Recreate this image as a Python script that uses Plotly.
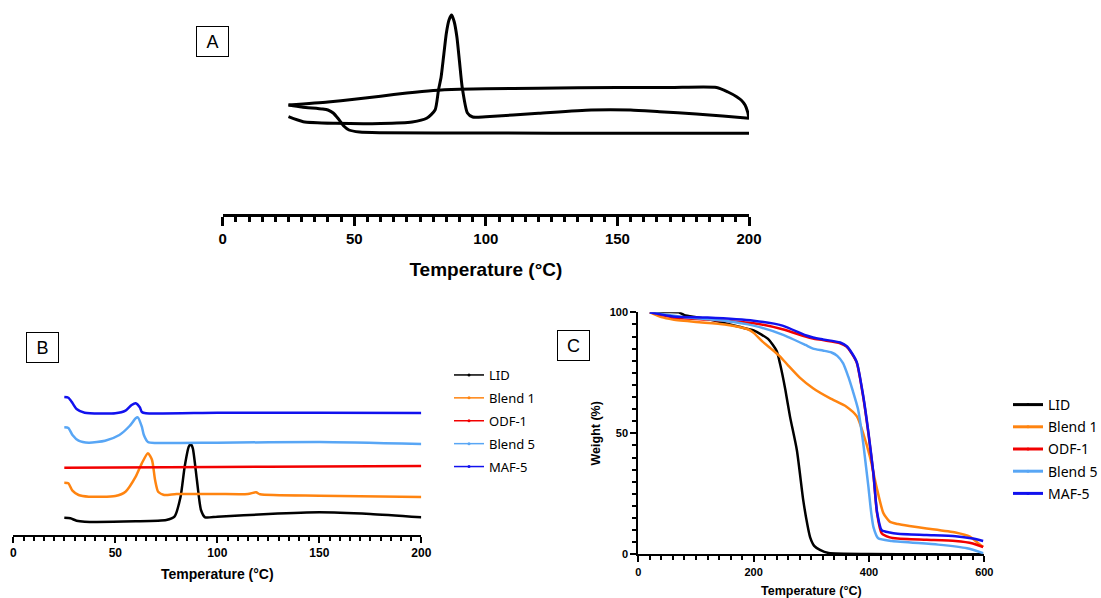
import plotly.graph_objects as go

W, H = 1101, 598

# ---------------- Panel A: DSC heat-cool-heat of LID (arbitrary heat-flow units)
a_heat1_T = [25, 30.6, 43, 60, 72, 77.5, 80.7, 82, 83, 84, 85, 86, 87, 88, 89, 90, 91, 93, 95, 100, 120, 140, 155, 166, 180, 190, 200]
a_heat1_hf = [9.73, 9.23, 9.07, 9.05, 9.2, 9.57, 10.4, 12.4, 13.7, 15.9, 18.1, 19.4, 19.9, 19.2, 17.7, 15.2, 12.7, 10.1, 9.7, 9.73, 10.07, 10.4, 10.4, 10.23, 10.0, 9.8, 9.57]
a_cool_T = [200, 199.5, 198.5, 197, 195.3, 192, 187.7, 170, 150, 120, 100, 90, 80, 70, 60, 50, 40, 25]
a_cool_hf = [9.57, 10.2, 10.9, 11.4, 11.73, 12.2, 12.65, 12.65, 12.65, 12.57, 12.52, 12.47, 12.35, 12.1, 11.78, 11.47, 11.2, 10.9]
a_heat2_T = [25, 30, 38, 40, 42, 44, 46, 48, 52, 60, 100, 150, 200]
a_heat2_hf = [10.9, 10.7, 10.5, 10.4, 10.1, 9.5, 8.8, 8.4, 8.2, 8.13, 8.1, 8.07, 8.07]

# ---------------- Panel B: DSC of samples (offset, arbitrary units)
b_series = ["LID", "Blend 1", "ODF-1", "Blend 5", "MAF-5"]
b_colors = ["#000000", "#FF8410", "#F20000", "#58A6F5", "#1111EE"]
b_lid_T = [25, 28, 31, 35, 60, 75, 79, 82, 84, 86, 87, 88, 90, 92, 94, 100, 125, 150, 175, 200]
b_lid_hf = [1.73, 1.67, 1.43, 1.33, 1.37, 1.5, 1.83, 3.83, 6.83, 8.83, 9.1, 8.67, 5.5, 2.5, 1.77, 1.83, 2.1, 2.27, 2.1, 1.77]
b_blend1_T = [25, 27, 29, 32, 37, 50, 55, 60, 63, 66, 68, 69.5, 71, 74, 80, 100, 115, 119, 121, 150, 200]
b_blend1_hf = [5.23, 5.17, 4.43, 4.0, 3.83, 3.9, 4.33, 5.83, 7.17, 8.17, 7.5, 5.5, 4.33, 4.0, 4.1, 4.1, 4.1, 4.27, 4.07, 3.93, 3.8]
b_odf1_T = [25, 50, 100, 150, 200]
b_odf1_hf = [6.73, 6.75, 6.8, 6.85, 6.9]
b_blend5_T = [25, 27, 29, 32, 37, 45, 52, 57, 60, 61, 63, 64, 66, 70, 100, 150, 200]
b_blend5_hf = [10.77, 10.7, 10.0, 9.43, 9.23, 9.43, 10.0, 10.9, 11.67, 11.77, 10.83, 10.0, 9.3, 9.2, 9.23, 9.3, 9.1]
b_maf5_T = [25, 27, 29, 31, 35, 50, 55, 58, 60, 62, 63, 65, 100, 150, 200]
b_maf5_hf = [13.8, 13.73, 13.2, 12.6, 12.23, 12.17, 12.43, 13.0, 13.17, 12.77, 12.3, 12.17, 12.23, 12.23, 12.2]

# ---------------- Panel C: TGA weight (%)
c_lid_T = [20, 70, 80, 100, 120, 150, 175, 200, 225, 240, 246, 255, 263, 275, 286, 293, 298, 305, 315, 330, 400, 500, 598]
c_lid_w = [100, 100, 98.8, 98, 97.2, 95.5, 94, 92.5, 89, 84, 78.5, 68, 57, 43, 22.4, 12.5, 7, 3.5, 1.8, 0.5, 0.1, 0, 0]
c_blend1_T = [20, 40, 60, 100, 150, 190, 200, 215, 230, 246, 260, 280, 303, 332, 361, 379, 390, 402, 413, 425, 436, 450, 470, 500, 550, 575, 590, 598]
c_blend1_w = [100, 98, 97, 96, 95, 93, 91.5, 88, 85, 81.7, 78, 73, 68.6, 64.5, 61, 57, 50, 40, 28, 17, 13.5, 12.5, 11.7, 10.7, 9, 7.3, 4.5, 3]
c_odf1_T = [20, 60, 120, 200, 250, 290, 303, 320, 350, 361, 370, 379, 390, 399, 407.5, 414, 422, 436, 450, 500, 550, 580, 598]
c_odf1_w = [100, 98, 97, 95.5, 93, 90, 89.2, 88.5, 87.2, 85.8, 83, 79, 65, 50, 33.5, 17, 8.7, 7, 6.5, 6, 5.5, 4.5, 3]
c_blend5_T = [20, 80, 150, 200, 250, 290, 303, 320, 335, 345, 355, 364, 372, 381, 390, 395, 399, 404, 408, 416, 440, 520, 570, 598]
c_blend5_w = [100, 98, 96.5, 94.5, 90.8, 86.5, 85, 84.2, 83.4, 82, 79, 73.5, 67.5, 60, 46, 36, 28, 17, 11, 6.6, 5.5, 4, 2.5, 0.5]
c_maf5_T = [20, 60, 120, 200, 250, 290, 303, 320, 350, 361, 370, 379, 390, 399, 407.5, 414, 422, 436, 450, 500, 550, 580, 598]
c_maf5_w = [100, 98.3, 97.8, 96.5, 94.5, 90.5, 89.6, 88.8, 87.5, 86.1, 83.3, 79.3, 65.5, 50.5, 34, 17.5, 10, 9, 8.5, 8, 7.5, 6.5, 5.5]

fig = go.Figure()

# Panel A traces
for T, hf in [(a_heat1_T, a_heat1_hf), (a_cool_T, a_cool_hf), (a_heat2_T, a_heat2_hf)]:
    fig.add_trace(go.Scatter(x=T, y=hf, mode="lines", line=dict(color="black", width=3, shape="spline", smoothing=0.6),
                             showlegend=False, xaxis="x", yaxis="y", hoverinfo="skip"))

# Panel B traces
b_data = [(b_lid_T, b_lid_hf), (b_blend1_T, b_blend1_hf), (b_odf1_T, b_odf1_hf), (b_blend5_T, b_blend5_hf), (b_maf5_T, b_maf5_hf)]
for (T, hf), col in zip(b_data, b_colors):
    fig.add_trace(go.Scatter(x=T, y=hf, mode="lines", line=dict(color=col, width=2.5, shape="spline", smoothing=0.6),
                             showlegend=False, xaxis="x2", yaxis="y2", hoverinfo="skip"))

# Panel C traces
c_data = [(c_lid_T, c_lid_w), (c_blend1_T, c_blend1_w), (c_odf1_T, c_odf1_w), (c_blend5_T, c_blend5_w), (c_maf5_T, c_maf5_w)]
for (T, w), col in zip(c_data, b_colors):
    fig.add_trace(go.Scatter(x=T, y=w, mode="lines", line=dict(color=col, width=2.5, shape="spline", smoothing=0.6),
                             showlegend=False, xaxis="x3", yaxis="y3", hoverinfo="skip"))

# Legend entries
for i, (name, col) in enumerate(zip(b_series, b_colors)):
    fig.add_trace(go.Scatter(x=[None], y=[None], mode="lines+markers", name=name, legendgroup="b%d" % i,
                             line=dict(color=col, width=1.5), marker=dict(color=col, size=3),
                             xaxis="x2", yaxis="y2", legend="legend"))
    fig.add_trace(go.Scatter(x=[None], y=[None], mode="lines+markers", name=name, legendgroup="c%d" % i,
                             line=dict(color=col, width=3), marker=dict(color=col, size=3),
                             xaxis="x3", yaxis="y3", legend="legend2"))

def px_x(p):
    return p / W

def px_y(p):
    return 1 - p / H

bold = dict(family="Arial, Liberation Sans", color="black", weight="bold")

fig.update_layout(
    width=W, height=H, margin=dict(l=0, r=0, t=0, b=0, autoexpand=False),
    paper_bgcolor="white", plot_bgcolor="rgba(0,0,0,0)",
    xaxis=dict(domain=[px_x(222.7), px_x(749)], range=[0, 200], anchor="y",
               showline=True, linewidth=2.5, linecolor="black", mirror=False,
               ticks="outside", ticklen=9, tickwidth=2.5, tickcolor="black", dtick=50, tick0=0,
               minor=dict(dtick=5, ticklen=5, tickwidth=2.5, ticks="outside", tickcolor="black"),
               showgrid=False, zeroline=False,
               tickfont=dict(size=15, **bold),
               title=dict(text="Temperature (°C)", font=dict(size=19, **bold), standoff=17)),
    yaxis=dict(domain=[px_y(214), px_y(4)], range=[0, 21.0], visible=False, anchor="x"),
    xaxis2=dict(domain=[px_x(13.3), px_x(421.3)], range=[0, 200], anchor="y2",
                showline=True, linewidth=2, linecolor="black",
                ticks="outside", ticklen=6, tickwidth=2, tickcolor="black", dtick=50, tick0=0,
                minor=dict(dtick=5, ticklen=3.5, tickwidth=2, ticks="outside", tickcolor="black"),
                showgrid=False, zeroline=False,
                tickfont=dict(size=12, **bold),
                title=dict(text="Temperature (°C)", font=dict(size=14, **bold), standoff=10)),
    yaxis2=dict(domain=[px_y(535), px_y(380)], range=[0, 15.5], visible=False, anchor="x2"),
    xaxis3=dict(domain=[px_x(638.3), px_x(984.3)], range=[0, 600], anchor="y3",
                showline=True, linewidth=2, linecolor="black",
                ticks="outside", ticklen=6, tickwidth=2, tickcolor="black", dtick=200, tick0=0,
                minor=dict(dtick=20, ticklen=4, tickwidth=2, ticks="outside", tickcolor="black"),
                showgrid=False, zeroline=False,
                tickfont=dict(size=11, **bold),
                title=dict(text="Temperature (°C)", font=dict(size=12.5, **bold), standoff=10)),
    yaxis3=dict(domain=[px_y(554.3), px_y(312.3)], range=[0, 100], anchor="x3",
                showline=True, linewidth=2, linecolor="black",
                ticks="outside", ticklen=6, tickwidth=2, tickcolor="black", dtick=50, tick0=0,
                minor=dict(dtick=5, ticklen=4, tickwidth=2, ticks="outside", tickcolor="black"),
                showgrid=False, zeroline=False,
                tickfont=dict(size=11, **bold),
                title=dict(text="Weight (%)", font=dict(size=12.5, **bold), standoff=6)),
    legend=dict(x=px_x(449), y=px_y(360), xanchor="left", yanchor="top", xref="container", yref="container",
                traceorder="grouped",
                tracegroupgap=3, font=dict(family="Noto Sans", size=13, color="black"),
                bgcolor="rgba(0,0,0,0)", borderwidth=0),
    legend2=dict(x=px_x(1008), y=px_y(389), xanchor="left", yanchor="top", xref="container", yref="container",
                 traceorder="grouped",
                 tracegroupgap=1, font=dict(family="Noto Sans", size=14, color="black"),
                 bgcolor="rgba(0,0,0,0)", borderwidth=0),
)

for label, cx, cy in [("A", 212, 42), ("B", 42, 347.5), ("C", 573, 346)]:
    fig.add_annotation(text=label, x=px_x(cx), y=px_y(cy), xref="paper", yref="paper",
                       xanchor="center", yanchor="middle", showarrow=False,
                       width=31, height=29, align="center",
                       font=dict(family="Arial, Liberation Sans", size=18, color="black"),
                       bordercolor="black", borderwidth=1, borderpad=0, bgcolor="white")

fig.write_html("out.html")
